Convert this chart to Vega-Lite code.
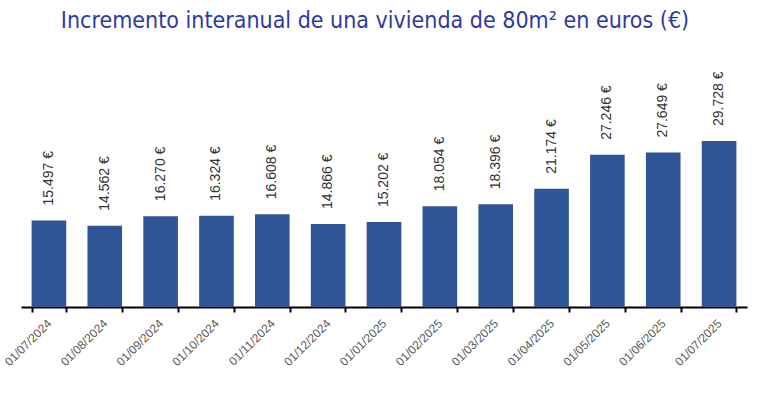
{
  "$schema": "https://vega.github.io/schema/vega-lite/v6.json",
  "width": 726,
  "height": 258,
  "padding": {"left": 2, "top": 10, "right": 19, "bottom": 0},
  "background": "white",
  "title": {
    "text": ["Incremento interanual de una vivienda de 80m² en euros (€)"],
    "fontSize": 23,
    "font": "DejaVu Sans Condensed",
    "fontWeight": "normal",
    "color": "#2E3A9E",
    "anchor": "middle",
    "dx": -9,
    "offset": 16
  },
  "data": {
    "values": [
      {"fecha": "01/07/2024", "valor": 15497},
      {"fecha": "01/08/2024", "valor": 14562},
      {"fecha": "01/09/2024", "valor": 16270},
      {"fecha": "01/10/2024", "valor": 16324},
      {"fecha": "01/11/2024", "valor": 16608},
      {"fecha": "01/12/2024", "valor": 14866},
      {"fecha": "01/01/2025", "valor": 15202},
      {"fecha": "01/02/2025", "valor": 18054},
      {"fecha": "01/03/2025", "valor": 18396},
      {"fecha": "01/04/2025", "valor": 21174},
      {"fecha": "01/05/2025", "valor": 27246},
      {"fecha": "01/06/2025", "valor": 27649},
      {"fecha": "01/07/2025", "valor": 29728}
    ]
  },
  "transform": [
    {"calculate": "replace(format(datum.valor, ','), ',', '.') + ' €'", "as": "etiqueta"}
  ],
  "encoding": {
    "x": {
      "field": "fecha",
      "type": "ordinal",
      "sort": null,
      "scale": {"paddingInner": 0.38, "paddingOuter": 0.19},
      "axis": {
        "title": null,
        "labelAngle": -45,
        "labelAlign": "right",
        "labelBaseline": "middle",
        "labelFont": "Liberation Sans",
        "labelFontSize": 12,
        "labelColor": "#595959",
        "labelPadding": 9,
        "domainColor": "black",
        "domainWidth": 2,
        "tickColor": "black",
        "tickWidth": 2,
        "tickSize": 5,
        "tickBand": "extent"
      }
    },
    "y": {
      "field": "valor",
      "type": "quantitative",
      "scale": {"domain": [0, 46200]},
      "axis": null
    }
  },
  "layer": [
    {"mark": {"type": "bar", "color": "#2F5597"}},
    {
      "mark": {
        "type": "text",
        "angle": 270,
        "align": "left",
        "baseline": "middle",
        "dx": 15,
        "font": "Liberation Sans",
        "fontSize": 14,
        "color": "#333333"
      },
      "encoding": {"text": {"field": "etiqueta"}}
    }
  ],
  "config": {"view": {"stroke": null}}
}
